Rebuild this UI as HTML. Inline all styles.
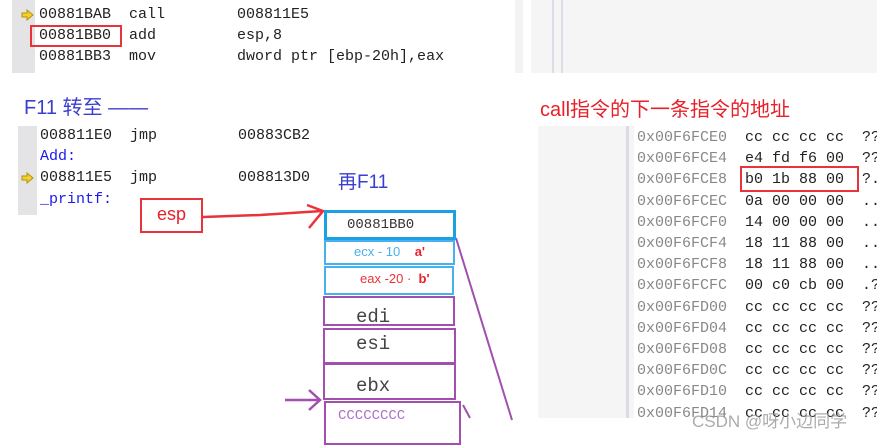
<!DOCTYPE html>
<html><head><meta charset="utf-8"><style>
body{margin:0;width:877px;height:436px;position:relative;overflow:hidden;background:#fff;font-family:"Liberation Mono",monospace;}
.a{position:absolute;white-space:pre;}
.m{font-size:15px;color:#222;line-height:16px;}
.ad{color:#888;}
.cj{font-family:"Liberation Sans","Noto Sans CJK SC",sans-serif;}
.ar{position:absolute;left:21px;width:13px;height:12px;}
</style></head><body>
<div class="a" style="left:12px;top:0;width:23px;height:73px;background:#e4e4e6"></div>
<div class="a" style="left:515px;top:0;width:8px;height:73px;background:#f3f3f3"></div>
<div class="a" style="left:531px;top:0;width:346px;height:73px;background:#f5f5f5"></div>
<div class="a" style="left:552px;top:0;width:2px;height:73px;background:#dcdce6"></div>
<div class="a" style="left:561px;top:0;width:2px;height:73px;background:#dcdce6"></div>

<svg class="ar" style="top:9px" viewBox="0 0 13 12"><path d="M1 4 H6 V1 L12 6 L6 11 V8 H1 Z" fill="#f2d030" stroke="#b89000" stroke-width="1"/></svg>
<div class="a m" style="left:39px;top:7px">00881BAB  call        008811E5</div>
<div class="a m" style="left:39px;top:28px">00881BB0  add         esp,8</div>
<div class="a m" style="left:39px;top:49px">00881BB3  mov         dword ptr [ebp-20h],eax</div>
<div class="a" style="left:30px;top:25px;width:88px;height:18px;border:2.5px solid #e8333a"></div>

<div class="a cj" style="left:24px;top:91px;font-size:20px;color:#3a3fd0">F11 转至 ——</div>
<div class="a cj" style="left:540px;top:93px;font-size:20px;color:#e8202a">call指令的下一条指令的地址</div>

<div class="a" style="left:18px;top:126px;width:19px;height:89px;background:#e4e4e6"></div>
<div class="a m" style="left:40px;top:128px">008811E0  jmp         00883CB2</div>
<div class="a m" style="left:40px;top:149px;color:#1a1aee">Add:</div>
<svg class="ar" style="top:172px" viewBox="0 0 13 12"><path d="M1 4 H6 V1 L12 6 L6 11 V8 H1 Z" fill="#f2d030" stroke="#b89000" stroke-width="1"/></svg>
<div class="a m" style="left:40px;top:170px">008811E5  jmp         008813D0</div>
<div class="a m" style="left:40px;top:192px;color:#1a1aee">_printf:</div>
<div class="a cj" style="left:338px;top:167px;font-size:19px;color:#3a3fd0">再F11</div>

<div class="a cj" style="left:140px;top:198px;width:59px;height:31px;border:2px solid #e8333a;color:#e8202a;font-size:18px;text-align:center;line-height:28px">esp</div>

<svg class="a" style="left:0;top:0" width="877" height="436">
<path d="M203 217 L260 215 L322 211" stroke="#e8333a" stroke-width="2.5" fill="none"/>
<path d="M307 205 L323 211 L309 228" stroke="#e8333a" stroke-width="2.5" fill="none"/>
<path d="M285 400 L320 400 M309 390 L320 400 L309 410" stroke="#a24fb0" stroke-width="2.5" fill="none"/>
<path d="M456 238 L512 420" stroke="#a24fb0" stroke-width="2" fill="none"/>
<path d="M463 405 L470 418" stroke="#a24fb0" stroke-width="2" fill="none"/>
</svg>

<div class="a" style="left:324px;top:210px;width:126px;height:24px;border:3px solid #1ba1e2;font-size:14px;color:#333;line-height:24px;text-indent:20px">00881BB0</div>
<div class="a cj" style="left:324px;top:240px;width:127px;height:21px;border:2px solid #47b0ee;font-size:13px;color:#47b0ee;line-height:20px;text-indent:28px">ecx - 10    <b style="color:#e8202a">a'</b></div>
<div class="a cj" style="left:324px;top:266px;width:126px;height:25px;border:2px solid #47b0ee;font-size:13px;color:#e8333a;line-height:22px;text-indent:34px">eax -20 ·  <b style="color:#e8202a">b'</b></div>
<div class="a" style="left:323px;top:296px;width:128px;height:26px;border:2px solid #a24fb0;font-size:19px;color:#444;line-height:38px;text-indent:31px">edi</div>
<div class="a" style="left:323px;top:328px;width:129px;height:32px;border:2px solid #a24fb0;font-size:19px;color:#444;line-height:28px;text-indent:31px">esi</div>
<div class="a" style="left:323px;top:363px;width:129px;height:33px;border:2px solid #a24fb0;font-size:19px;color:#444;line-height:42px;text-indent:31px">ebx</div>
<div class="a" style="left:324px;top:401px;width:133px;height:40px;border:2.5px solid #a24fb0;font-size:14px;color:#b070c8;line-height:26px;text-indent:12px">CCCCCCCC</div>

<div class="a" style="left:538px;top:126px;width:96px;height:292px;background:#f5f5f5"></div>
<div class="a" style="left:626px;top:126px;width:3px;height:292px;background:#dcdce6"></div>
<div class="a m" style="left:637px;top:127px;line-height:21.2px"><span class="ad">0x00F6FCE0</span>  cc cc cc cc  ??
<span class="ad">0x00F6FCE4</span>  e4 fd f6 00  ??
<span class="ad">0x00F6FCE8</span>  b0 1b 88 00  ?.
<span class="ad">0x00F6FCEC</span>  0a 00 00 00  ..
<span class="ad">0x00F6FCF0</span>  14 00 00 00  ..
<span class="ad">0x00F6FCF4</span>  18 11 88 00  ..
<span class="ad">0x00F6FCF8</span>  18 11 88 00  ..
<span class="ad">0x00F6FCFC</span>  00 c0 cb 00  .?
<span class="ad">0x00F6FD00</span>  cc cc cc cc  ??
<span class="ad">0x00F6FD04</span>  cc cc cc cc  ??
<span class="ad">0x00F6FD08</span>  cc cc cc cc  ??
<span class="ad">0x00F6FD0C</span>  cc cc cc cc  ??
<span class="ad">0x00F6FD10</span>  cc cc cc cc  ??
<span class="ad">0x00F6FD14</span>  cc cc cc cc  ??</div>
<div class="a" style="left:740px;top:166px;width:115px;height:22px;border:2.5px solid #e8333a"></div>
<div class="a cj" style="left:692px;top:407px;font-size:17px;color:rgba(150,150,150,0.8)">CSDN @呀小边同学</div>
</body></html>
